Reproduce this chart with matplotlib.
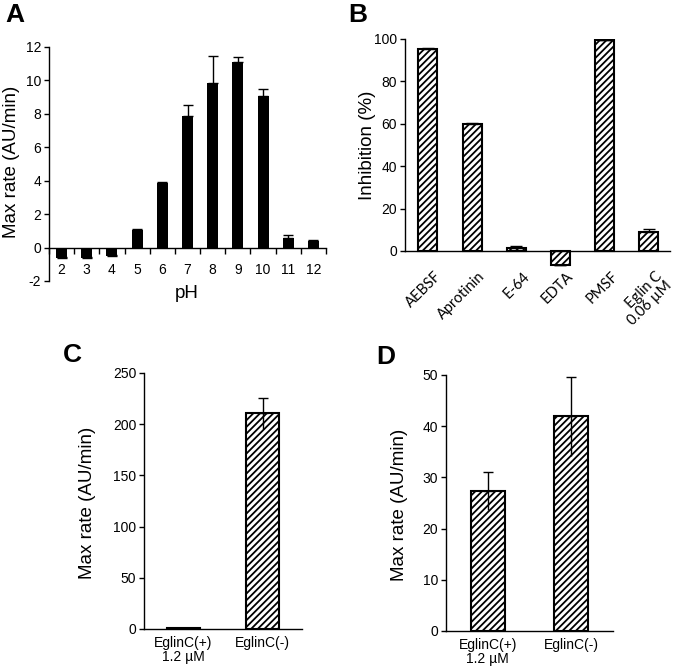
import matplotlib
matplotlib.use('Agg')
import matplotlib.pyplot as plt
import matplotlib.transforms as mtransforms
import numpy as np

plt.rcParams['font.family'] = ['Liberation Sans', 'DejaVu Sans']
plt.rcParams['hatch.linewidth'] = 1.3
plt.rcParams['axes.linewidth'] = 1.0
plt.rcParams['axes.unicode_minus'] = False

# panel A: pH profile
ph = [2, 3, 4, 5, 6, 7, 8, 9, 10, 11, 12]
ph_rate = [-0.6, -0.6, -0.52, 1.05, 3.85, 7.9, 9.85, 11.1, 9.05, 0.6, 0.4]
ph_err = [0.05, 0.05, 0.05, 0.05, 0.1, 0.65, 1.6, 0.3, 0.45, 0.15, 0.05]

# panel B: inhibitors
inhibitors = ['AEBSF', 'Aprotinin', 'E-64', 'EDTA', 'PMSF', 'Eglin C\n0.06 µM']
inhibition = [95.2, 59.8, 1.2, -6.8, 99.3, 8.8]
inhibition_err = [0.6, 0.8, 1.1, 0.0, 0.0, 1.7]

# panels C and D: eglin C
eglin_labels = ['EglinC(+)\n1.2 µM', 'EglinC(-)']
eglin_c = [0.8, 210.6]
eglin_c_err = [0.3, 15.3]
eglin_d = [27.4, 41.9]
eglin_d_err = [3.7, 7.8]

W, H = 680, 669
fig = plt.figure(figsize=(W / 100, H / 100), dpi=100)


def px_axes(left, top, right, bottom):
    return fig.add_axes([left / W, 1 - bottom / H, (right - left) / W, (bottom - top) / H])


def style(ax):
    ax.spines['top'].set_visible(False)
    ax.spines['right'].set_visible(False)
    ax.tick_params(axis='y', direction='out', length=3.6, width=1.0, labelsize=10, pad=2)


def fig_label(x, y, txt, **kw):
    fig.text(x / W, 1 - y / H, txt, ha='center', va='center', **kw)


def hatched_bars(ax, vals, width):
    x = np.arange(len(vals))
    ax.bar(x, vals, width, color='white', edgecolor='black', linewidth=1.5, hatch='/////', zorder=2)
    return x


def err_up_down(ax, x, vals, err, cap):
    zeros = np.zeros(len(err))
    ax.errorbar(x, vals, yerr=[zeros, err], fmt='none', ecolor='black', elinewidth=1.0,
                capsize=cap, capthick=1.0, zorder=3)
    ax.errorbar(x, vals, yerr=[err, zeros], fmt='none', ecolor='black', elinewidth=1.0,
                capsize=0, zorder=3)


def panel_a():
    ax = px_axes(49, 47, 326, 281)
    style(ax)
    ax.bar(ph, ph_rate, 0.44, color='black', zorder=2)
    ax.errorbar(ph, ph_rate, yerr=[np.zeros(len(ph_err)), ph_err], fmt='none', ecolor='black',
                elinewidth=1.0, capsize=3.6, capthick=1.0, zorder=3)
    ax.set_xlim(1.5, 12.5)
    ax.set_ylim(-2, 12)
    ax.set_yticks(np.arange(-2, 13, 2))
    ax.spines['bottom'].set_position(('data', 0))
    ax.set_xticks(ph)
    ax.set_xticks(np.arange(1.5, 13, 1), minor=True)
    ax.tick_params(axis='x', which='major', length=0, labelsize=10, pad=11)
    ax.tick_params(axis='x', which='minor', direction='out', length=4, width=1.0)
    fig_label(187, 293, 'pH', fontsize=13.5)
    fig_label(12, 162, 'Max rate (AU/min)', fontsize=13.5, rotation=90)
    fig_label(15, 15, 'A', fontsize=19, fontweight='bold')


def panel_b():
    ax = px_axes(405, 39, 670, 293.4)
    style(ax)
    x = hatched_bars(ax, inhibition, 0.43)
    zeros = np.zeros(len(inhibition_err))
    ax.errorbar(x, inhibition, yerr=[zeros, inhibition_err], fmt='none', ecolor='black',
                elinewidth=1.0, capsize=4, capthick=1.0, zorder=3)
    ax.set_xlim(-0.52, 5.48)
    ax.set_ylim(-20, 100)
    ax.set_yticks(np.arange(0, 101, 20))
    ax.spines['left'].set_bounds(0, 100)
    ax.spines['bottom'].set_position(('data', 0))
    ax.set_xticks(x)
    ax.set_xticklabels(inhibitors, rotation=45, ha='right', va='top', rotation_mode='anchor',
                       family=['Lato', 'DejaVu Sans'], fontsize=10.5, linespacing=0.95)
    ax.tick_params(axis='x', length=0, pad=13)
    shift = mtransforms.ScaledTranslation(6 / 100, 0, fig.dpi_scale_trans)
    for lab in ax.get_xticklabels():
        lab.set_transform(lab.get_transform() + shift)
    fig_label(367, 145, 'Inhibition (%)', fontsize=13.5, rotation=90)
    fig_label(358, 15, 'B', fontsize=19, fontweight='bold')


def panel_eglin(box, vals, err, ymax, ystep, lab_pos, letter_pos, letter):
    ax = px_axes(*box)
    style(ax)
    x = hatched_bars(ax, vals, 0.41)
    err_up_down(ax, x, vals, err, 3.6)
    ax.set_xlim(-0.5, 1.5)
    ax.set_ylim(0, ymax)
    ax.set_yticks(np.arange(0, ymax + 1, ystep))
    ax.set_xticks(x)
    ax.set_xticklabels(eglin_labels, fontsize=10, linespacing=1.0)
    ax.tick_params(axis='x', length=0, pad=5)
    fig_label(lab_pos[0], lab_pos[1], 'Max rate (AU/min)', fontsize=13.5, rotation=90)
    fig_label(letter_pos[0], letter_pos[1], letter, fontsize=19, fontweight='bold')


panel_a()
panel_b()
panel_eglin((144, 373, 302, 629), eglin_c, eglin_c_err, 250, 50, (87, 503), (72, 355), 'C')
panel_eglin((446, 375, 613, 631), eglin_d, eglin_d_err, 50, 10, (399, 505), (386, 357), 'D')

fig.savefig('out.png', dpi=100)
